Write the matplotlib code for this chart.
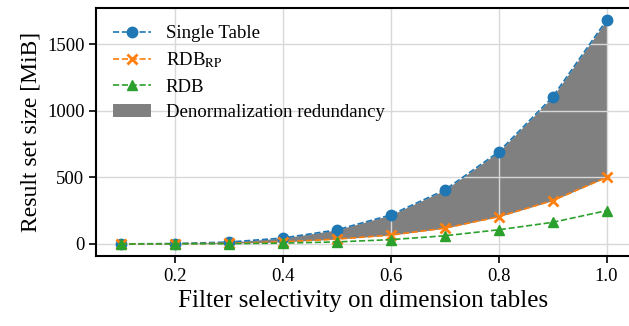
import numpy as np
import matplotlib.pyplot as plt

selectivity = [0.1, 0.2, 0.3, 0.4, 0.5, 0.6, 0.7, 0.8, 0.9, 1.0]
single_table = [0.2, 2.7, 14, 44, 105, 217, 404, 690, 1103, 1680]
rdb_rp = [0.1, 1, 4.5, 15, 36, 66, 118, 204, 325, 500]
rdb = [0.05, 0.5, 2, 6, 15, 32, 61, 106, 162, 250]

plt.rcParams['font.family'] = ['Liberation Serif', 'DejaVu Serif']
plt.rcParams['mathtext.fontset'] = 'stix'

fig = plt.figure(figsize=(6.29, 3.26), dpi=100)
ax = fig.add_axes([0.153, 0.215, 0.85, 0.76])

ax.fill_between(selectivity, rdb_rp, single_table, color='#808080', lw=0,
                label='Denormalization redundancy')
ax.plot(selectivity, single_table, '--o', color='tab:blue', ms=7.5, lw=1.2, label='Single Table')
ax.plot(selectivity, rdb_rp, '--x', color='tab:orange', ms=7, mew=2, lw=1.2, label=r'RDB$_{\mathrm{RP}}$')
ax.plot(selectivity, rdb, '--^', color='tab:green', ms=7.5, lw=1.2, label='RDB')

ax.set_xlim(0.055, 1.045)
ax.set_ylim(-90, 1770)
ax.set_xticks([0.2, 0.4, 0.6, 0.8, 1.0])
ax.set_yticks([0, 500, 1000, 1500])
ax.grid(True, color='#d8d8d8', lw=1)
ax.tick_params(labelsize=13.5, length=5, width=1.2)
for s in ax.spines.values():
    s.set_linewidth(1.5)
ax.set_xlabel('Filter selectivity on dimension tables', fontsize=18)
ax.set_ylabel('Result set size [MiB]', fontsize=17)

h, l = ax.get_legend_handles_labels()
order = [1, 2, 3, 0]
ax.legend([h[i] for i in order], [l[i] for i in order], loc='upper left',
          frameon=False, fontsize=13.5, handlelength=2.0, labelspacing=0.45)

fig.savefig('out.png')
